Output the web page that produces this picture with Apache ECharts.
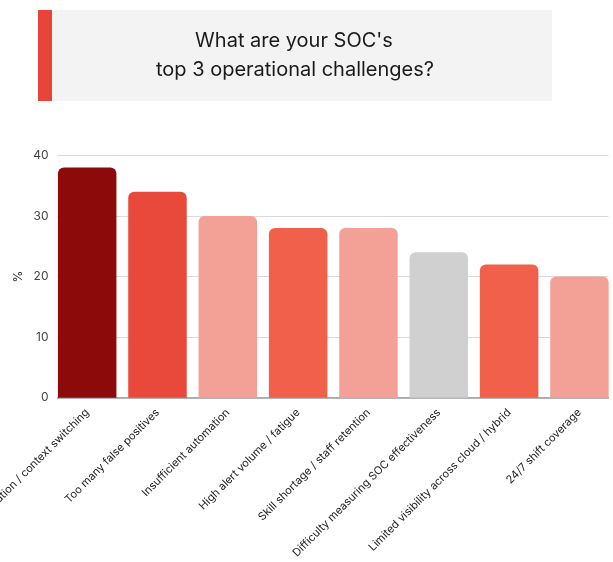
<!DOCTYPE html>
<html>
<head>
<meta charset="utf-8">
<style>
  html, body { margin: 0; padding: 0; background: #ffffff; }
  #chart { width: 613px; height: 562px; }
</style>
<script src="https://cdn.jsdelivr.net/npm/echarts@6/dist/echarts.min.js"></script>
</head>
<body>
<div id="chart"></div>
<script>
// Survey: top 3 operational challenges reported by SOC teams (% of respondents)
const categories = [
  'Tool fragmentation / context switching',
  'Too many false positives',
  'Insufficient automation',
  'High alert volume / fatigue',
  'Skill shortage / staff retention',
  'Difficulty measuring SOC effectiveness',
  'Limited visibility across cloud / hybrid',
  '24/7 shift coverage'
];
const percentages = [38, 34, 30, 28, 28, 24, 22, 20];
const barColors = ['#8d0a0b', '#e8493b', '#f3a097', '#f0604a', '#f3a097', '#d0d0d0', '#f0604a', '#f3a097'];
const yTicks = { min: 0, max: 40, interval: 10 };
const titleLines = ["What are your SOC's", 'top 3 operational challenges?'];

const FONT = 'Inter, "Noto Sans", sans-serif';
const chart = echarts.init(document.getElementById('chart'));

chart.setOption({
  backgroundColor: '#ffffff',
  animation: false,
  textStyle: { fontFamily: FONT },
  graphic: [
    // title card with red accent strip
    { type: 'rect', shape: { x: 52, y: 10, width: 500, height: 91 }, style: { fill: '#f3f3f3' } },
    { type: 'rect', shape: { x: 38, y: 10, width: 14, height: 91 }, style: { fill: '#e8453a' } },
    {
      type: 'text', x: 294, y: 41,
      style: {
        text: titleLines[0], font: '400 20px ' + FONT, fill: '#1a1a1a',
        align: 'center', verticalAlign: 'middle'
      }
    },
    {
      type: 'text', x: 295, y: 70,
      style: {
        text: titleLines[1], font: '400 20px ' + FONT, fill: '#1a1a1a',
        align: 'center', verticalAlign: 'middle'
      }
    }
  ],
  grid: [
    // frame for value axis, gridlines and baseline
    { left: 57.5, right: 4.5, top: 155.3, bottom: 164.3, outerBoundsMode: 'none', containLabel: false },
    // frame for the bars and category labels
    { left: 52, right: -1.6, top: 155.3, bottom: 164.3, outerBoundsMode: 'none', containLabel: false }
  ],
  xAxis: [
    {
      gridIndex: 0, type: 'category', data: categories,
      axisLine: { show: true, lineStyle: { color: '#9a9a9a', width: 1.5 } },
      axisTick: { show: false }, axisLabel: { show: false }, splitLine: { show: false }
    },
    {
      gridIndex: 1, type: 'category', data: categories,
      axisLine: { show: false }, axisTick: { show: false },
      axisLabel: {
        interval: 0, rotate: 45, margin: 13,
        fontSize: 11, color: '#222222', fontFamily: FONT
      }
    }
  ],
  yAxis: [
    {
      gridIndex: 0, type: 'value', min: yTicks.min, max: yTicks.max, interval: yTicks.interval,
      name: '%', nameLocation: 'middle', nameGap: 33, nameRotate: 90, nameMoveOverlap: false,
      nameTextStyle: { fontSize: 12, color: '#333333' },
      axisLine: { show: false }, axisTick: { show: false },
      axisLabel: { fontSize: 12, color: '#444444', margin: 9 },
      splitLine: { lineStyle: { color: '#d9d9d9', width: 1 } }
    },
    {
      gridIndex: 1, type: 'value', min: yTicks.min, max: yTicks.max, interval: yTicks.interval,
      show: false, splitLine: { show: false }
    }
  ],
  series: [{
    type: 'bar',
    xAxisIndex: 1, yAxisIndex: 1,
    data: percentages.map((v, i) => ({ value: v, itemStyle: { color: barColors[i] } })),
    barWidth: 58.5,
    itemStyle: { borderRadius: [6, 6, 0, 0] }
  }]
});
</script>
</body>
</html>
